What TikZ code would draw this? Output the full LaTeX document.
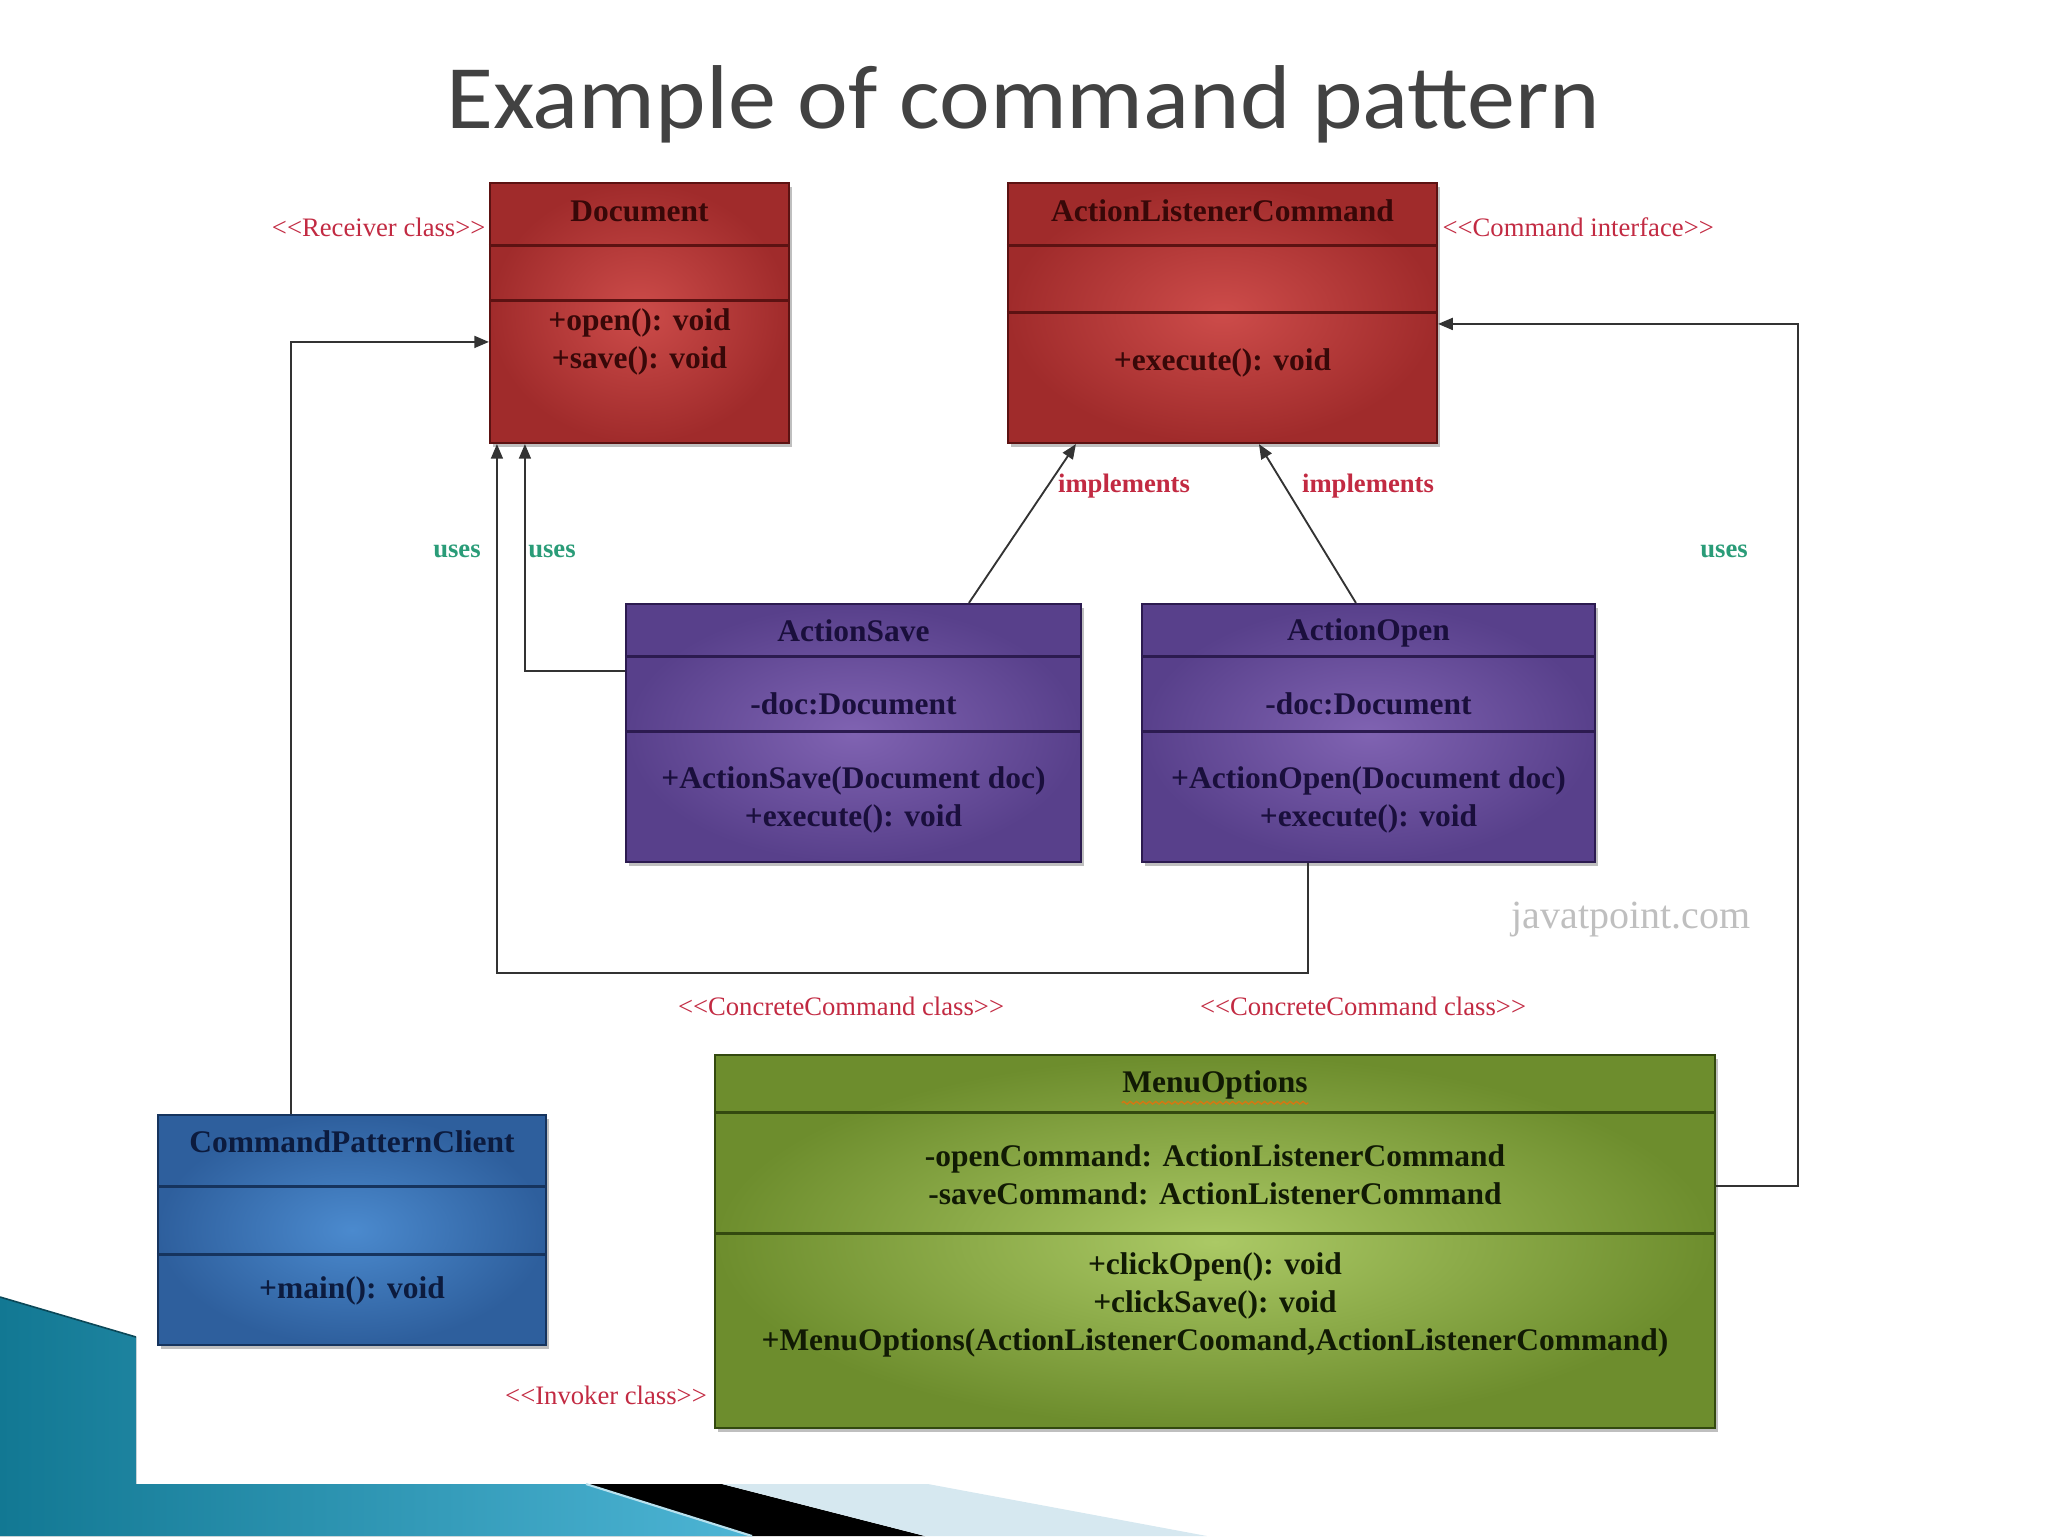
\documentclass[tikz,border=0pt]{standalone}
\usepackage{fontspec}
\setmainfont{Liberation Serif}
\newfontfamily\titlefont{Carlito}[FakeStretch=1.06]
\usetikzlibrary{arrows.meta,positioning,calc,fit,shadows,decorations.pathmorphing}
\definecolor{cRedIn}  {HTML}{CD4C4A}
\definecolor{cRedOut} {HTML}{A02B2B}
\definecolor{cRedLn}  {HTML}{5C1212}
\definecolor{cRedTx}  {HTML}{380808}
\definecolor{cPurIn}  {HTML}{8063B2}
\definecolor{cPurOut} {HTML}{58408B}
\definecolor{cPurLn}  {HTML}{2C1B50}
\definecolor{cPurTx}  {HTML}{1A0F3C}
\definecolor{cBluIn}  {HTML}{4B8ACE}
\definecolor{cBluOut} {HTML}{2E5F9D}
\definecolor{cBluLn}  {HTML}{16345E}
\definecolor{cBluTx}  {HTML}{0C1B3E}
\definecolor{cGrnIn}  {HTML}{ABC965}
\definecolor{cGrnOut} {HTML}{6D8D2D}
\definecolor{cGrnLn}  {HTML}{33490F}
\definecolor{cGrnTx}  {HTML}{111A04}
\definecolor{cStereo} {HTML}{C22A42}
\definecolor{cUses}   {HTML}{2A9C78}
\definecolor{cTeal}   {HTML}{127893}
\definecolor{cTealLt} {HTML}{4DB5D5}
\definecolor{cIce}    {HTML}{D6E8F0}
\definecolor{cTitle}  {HTML}{424242}
\tikzset{
  >={Triangle[length=5.5pt,width=4.5pt]},
  cls/.style={draw,inner sep=0pt,line width=0.8pt,
              drop shadow={shadow xshift=1.2pt,shadow yshift=-1.5pt,opacity=0.5}}, % class box
  clsR/.style={cls,draw=cRedLn,inner color=cRedIn,outer color=cRedOut},
  clsP/.style={cls,draw=cPurLn,inner color=cPurIn,outer color=cPurOut},
  clsB/.style={cls,draw=cBluLn,inner color=cBluIn,outer color=cBluOut},
  clsG/.style={cls,draw=cGrnLn,inner color=cGrnIn,outer color=cGrnOut},
  sep/.style={line width=1.1pt},                                            % compartment line
  txt/.style={font=\fontsize{11.8}{14.2}\selectfont\bfseries,align=center,inner sep=0pt},
  tR/.style={txt,text=cRedTx},
  tP/.style={txt,text=cPurTx},
  tB/.style={txt,text=cBluTx},
  tG/.style={txt,text=cGrnTx},
  stereo/.style={font=\fontsize{10}{12}\selectfont,text=cStereo,inner sep=0pt},
  impl/.style={font=\fontsize{10}{12}\selectfont\bfseries,text=cStereo,inner sep=0pt},
  uses/.style={font=\fontsize{10}{12}\selectfont\bfseries,text=cUses,inner sep=0pt},
  link/.style={draw=black!80,line width=0.7pt},
  squig/.style={decorate,decoration={snake,amplitude=0.5pt,segment length=2.4pt},
                draw=orange!80!red,line width=0.5pt,opacity=0.7},
}
\newcommand{\lt}{<{}<}
\newcommand{\gt}{>{}>}

\begin{document}
\begin{tikzpicture}[x=0.375pt,y=-0.375pt]
  \useasboundingbox (0,0) rectangle (2048,1536);

  % ---- slide decoration ----
  \fill[left color=cTeal,right color=cTealLt]
    (0,1297) -- (136,1337) -- (136,1484) -- (586,1484) -- (752,1536) -- (0,1536) -- cycle;
  \draw[cTeal!60!black,line width=0.6pt] (0,1297) -- (136,1337);
  \fill[black] (586,1484) -- (722,1484) -- (925,1536) -- (752,1536) -- cycle;
  \fill[cIce] (722,1484) -- (928,1484) -- (1207,1536) -- (925,1536) -- cycle;
  \draw[white!60!cTealLt,line width=0.8pt] (586,1484) -- (752,1536);

  % ---- title ----
  \node[font=\titlefont\fontsize{34}{40}\selectfont,text=cTitle,anchor=base,inner sep=0pt]
    (title) at (1023,128) {Example of command pattern};

  % ---- class boxes ----
  \node[clsR,fit={(490,183) (789,443)}]   (doc)    {};
  \node[clsR,fit={(1008,183) (1437,443)}] (alc)    {};
  \node[clsP,fit={(626,604) (1081,862)}]  (asave)  {};
  \node[clsP,fit={(1142,604) (1595,862)}] (aopen)  {};
  \node[clsB,fit={(158,1115) (546,1345)}] (client) {};
  \node[clsG,fit={(715,1055) (1715,1428)}](menu)   {};

  % ---- compartments ----
  \newcommand{\rowsep}[3]{% #1 node #2 colour #3 offset from top
    \draw[sep,#2] ($(#1.north west)+(0,#3)$) -- ($(#1.north east)+(0,#3)$);}
  \rowsep{doc}{cRedLn}{64}    \rowsep{doc}{cRedLn}{119}
  \rowsep{alc}{cRedLn}{64}    \rowsep{alc}{cRedLn}{131}
  \rowsep{asave}{cPurLn}{54}  \rowsep{asave}{cPurLn}{129}
  \rowsep{aopen}{cPurLn}{54}  \rowsep{aopen}{cPurLn}{129}
  \rowsep{client}{cBluLn}{73} \rowsep{client}{cBluLn}{141}
  \rowsep{menu}{cGrnLn}{59}   \rowsep{menu}{cGrnLn}{180}

  % ---- class texts ----
  \node[tR] (doc-n)   at ($(doc.north)+(0,29)$)    {Document};
  \node[tR] (doc-m)   at ($(doc.north)+(0,160)$)   {+open(): void\\+save(): void};
  \node[tR] (alc-n)   at ($(alc.north)+(0,29)$)    {ActionListenerCommand};
  \node[tR] (alc-m)   at ($(alc.north)+(0,181)$)   {+execute(): void};
  \node[tP] (asave-n) at ($(asave.north)+(0,28)$)  {ActionSave};
  \node[tP] (asave-a) at ($(asave.north)+(0,101)$) {-doc:Document};
  \node[tP] (asave-m) at ($(asave.north)+(0,197)$) {+ActionSave(Document doc)\\+execute(): void};
  \node[tP] (aopen-n) at ($(aopen.north)+(0,30)$)  {ActionOpen};
  \node[tP] (aopen-a) at ($(aopen.north)+(0,101)$) {-doc:Document};
  \node[tP] (aopen-m) at ($(aopen.north)+(0,197)$) {+ActionOpen(Document doc)\\+execute(): void};
  \node[tB] (client-n) at ($(client.north)+(0,28)$)  {CommandPatternClient};
  \node[tB] (client-m) at ($(client.north)+(0,177)$) {+main(): void};
  \node[tG] (menu-n)  at ($(menu.north)+(0,31)$)   {MenuOptions};
  \node[tG] (menu-a)  at ($(menu.north)+(0,121)$)
    {-openCommand: ActionListenerCommand\\-saveCommand: ActionListenerCommand};
  \node[tG] (menu-m)  at ($(menu.north)+(0,251)$)
    {+clickOpen(): void\\+clickSave(): void\\+MenuOptions(ActionListenerCoomand,ActionListenerCommand)};
  \draw[squig] ($(menu-n.south west)+(0,3)$) -- ($(menu-n.south east)+(0,3)$);

  % ---- connectors ----
  \draw[link,->] ($(client.north west)+(134,0)$) |- ($(doc.north west)+(0,160)$);
  \draw[link,->] ($(asave.north west)+(0,68)$) -| ($(doc.south west)+(36,0)$);
  \draw[link,->] ($(aopen.south west)+(167,0)$) -- ++(0,110) -| ($(doc.south west)+(8,0)$);
  \draw[link,->] ($(asave.north west)+(344,0)$) -- ($(alc.south west)+(69,0)$);
  \draw[link,->] ($(aopen.north west)+(215,0)$) -- ($(alc.south west)+(252,0)$);
  \draw[link,->] ($(menu.north east)+(0,132)$) -- ++(82,0) |- ($(alc.north east)+(0,142)$);

  % ---- labels ----
  \node[stereo,anchor=east] (st-rec) at ($(doc.north west)+(-3,45)$) {\lt Receiver class\gt};
  \node[stereo,anchor=west] (st-cmd) at ($(alc.north east)+(4,45)$)  {\lt Command interface\gt};
  \node[stereo] (st-cc1) at (841,1006)  {\lt ConcreteCommand class\gt};
  \node[stereo] (st-cc2) at (1363,1006) {\lt ConcreteCommand class\gt};
  \node[stereo] (st-inv) at (606,1395)  {\lt Invoker class\gt};
  \node[impl] (impl1) at (1124,486) {implements};
  \node[impl] (impl2) at (1368,486) {implements};
  \node[uses] (uses1) at (457,551)  {uses};
  \node[uses] (uses2) at (552,551)  {uses};
  \node[uses] (uses3) at (1724,551) {uses};
  \node[font=\fontsize{15}{18}\selectfont,text=black!25,inner sep=0pt] (wm) at (1631,919) {javatpoint.com};
\end{tikzpicture}
\end{document}
